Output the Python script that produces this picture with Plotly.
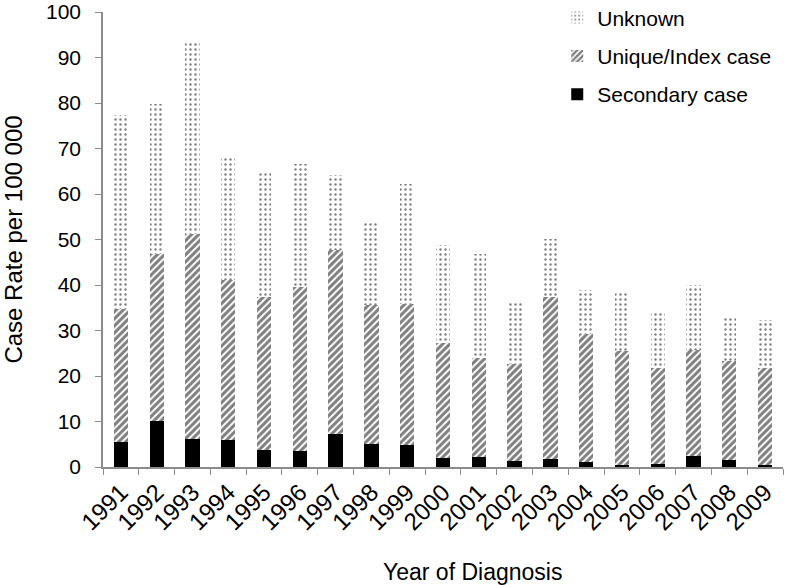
import plotly.graph_objects as go

# Case rate per 100 000 by year of diagnosis (segment heights of each stack)
years = [str(y) for y in range(1991, 2010)]
secondary = [5.4, 10.1, 6.1, 6.0, 3.7, 3.5, 7.3, 5.1, 4.8, 1.9,
             2.2, 1.3, 1.7, 1.2, 0.4, 0.6, 2.4, 1.6, 0.4]
unique_index = [29.3, 36.7, 45.1, 35.1, 33.6, 36.0, 40.5, 30.4, 31.0, 25.3,
                21.7, 21.3, 35.6, 28.0, 25.2, 21.1, 23.4, 21.7, 21.3]
unknown = [42.6, 32.9, 41.9, 27.0, 27.3, 27.2, 16.3, 18.3, 26.5, 21.5,
           22.9, 13.6, 12.8, 9.6, 12.6, 12.2, 14.1, 9.6, 10.5]

font_family = "Liberation Sans, Arial, sans-serif"

fig = go.Figure()

fig.add_trace(go.Bar(
    x=years, y=secondary, name="Secondary case", legendgroup="sec",
    legendrank=3,
    marker=dict(color="black", line=dict(width=0)),
))
fig.add_trace(go.Bar(
    x=years, y=unique_index, name="Unique/Index case", legendgroup="uni",
    legendrank=2,
    marker=dict(
        color="white", line=dict(width=0),
        pattern=dict(shape="/", fgcolor="black", bgcolor="white",
                     size=5, solidity=0.6, fillmode="overlay"),
    ),
))
fig.add_trace(go.Bar(
    x=years, y=unknown, name="Unknown", legendgroup="unk",
    legendrank=1,
    marker=dict(
        color="white", line=dict(width=0),
        pattern=dict(shape=".", fgcolor="black", bgcolor="white",
                     size=5, solidity=0.18, fillmode="overlay"),
    ),
))

fig.update_layout(
    barmode="stack",
    bargap=0.6,
    width=796, height=585,
    margin=dict(l=103, r=13, t=12, b=118, autoexpand=False),
    plot_bgcolor="white",
    paper_bgcolor="white",
    font=dict(family=font_family, size=20, color="black"),
    legend=dict(
        x=0.668, y=1.032, xanchor="left", yanchor="top",
        traceorder="grouped",
        font=dict(size=21),
        itemwidth=30,
        tracegroupgap=8,
        bgcolor="rgba(0,0,0,0)",
    ),
    xaxis=dict(
        tickangle=-45,
        tickfont=dict(size=24),
        showline=True, linecolor="#8c8c8c", linewidth=1.5,
        ticks="outside", tickson="boundaries", ticklen=6,
        tickcolor="#8c8c8c",
        showgrid=False,
        automargin=False,
    ),
    yaxis=dict(
        title=dict(text="Case Rate per 100 000", font=dict(size=24), standoff=17),
        range=[0, 100],
        dtick=10,
        tickfont=dict(size=21),
        showline=True, linecolor="#8c8c8c", linewidth=1.5,
        ticks="outside", ticklen=6, tickcolor="#8c8c8c",
        ticklabelstandoff=10,
        ticklabeloverflow="allow",
        showgrid=False, zeroline=False,
        automargin=False,
    ),
    annotations=[
        dict(
            text="Year of Diagnosis",
            xref="paper", yref="paper",
            x=0.544, y=-0.231,
            xanchor="center", yanchor="middle",
            font=dict(size=23),
            showarrow=False,
        )
    ],
)

# drop the default page margin so the figure sits at the window's corner
fig.write_html("out.html", config={"displayModeBar": False},
               post_script="document.body.style.margin='0';")
